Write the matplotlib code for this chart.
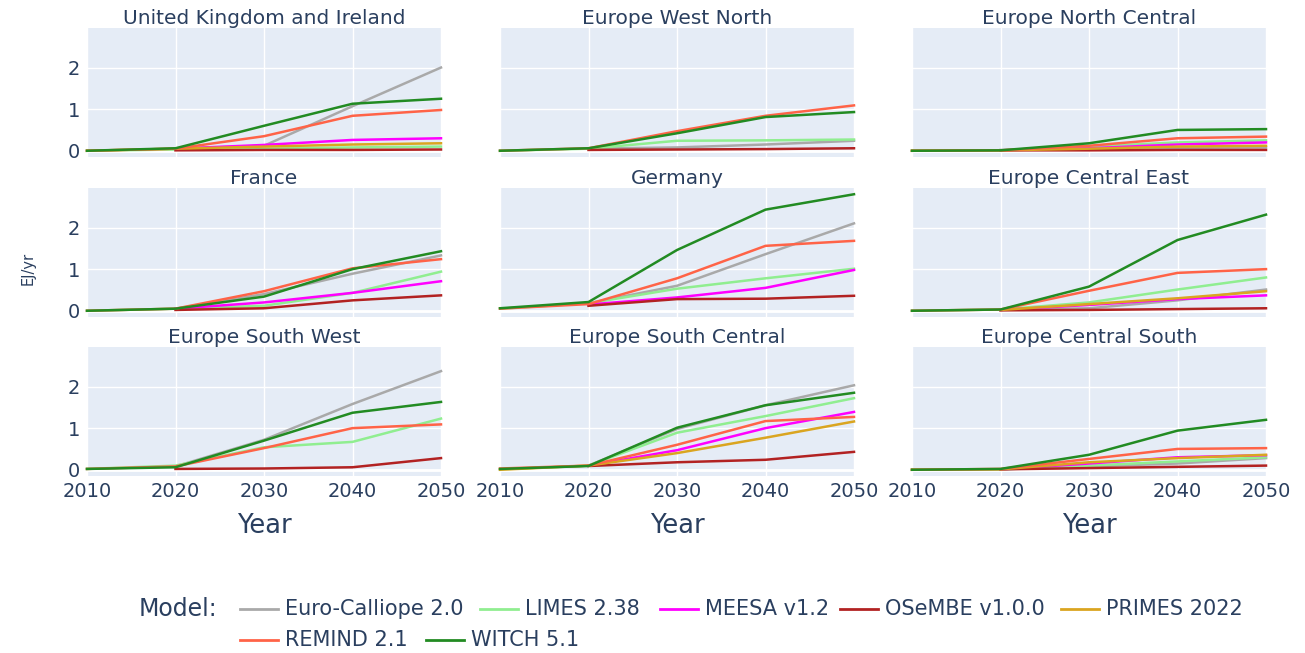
import numpy as np
import matplotlib
matplotlib.use("Agg")
import matplotlib.pyplot as plt
from matplotlib.lines import Line2D

nan = np.nan
years = [2010, 2020, 2030, 2040, 2050]

models = ["Euro-Calliope 2.0", "LIMES 2.38", "MEESA v1.2", "OSeMBE v1.0.0",
          "PRIMES 2022", "REMIND 2.1", "WITCH 5.1"]
colors = ["#a9a9a9", "#90ee90", "#ff00ff", "#b22222", "#daa520", "#ff6347", "#228b22"]

# values per region, in the order of models
uk_ireland = [
    [nan, 0.05, 0.12, 1.07, 2.0],
    [0.0, 0.03, 0.05, 0.08, 0.10],
    [nan, 0.05, 0.14, 0.26, 0.30],
    [nan, 0.01, 0.02, 0.02, 0.03],
    [0.0, 0.05, 0.10, 0.15, 0.18],
    [0.0, 0.05, 0.35, 0.84, 0.98],
    [0.0, 0.06, 0.60, 1.13, 1.25],
]
europe_west_north = [
    [nan, 0.05, 0.08, 0.15, 0.24],
    [0.0, 0.05, 0.24, 0.25, 0.27],
    [nan, nan, nan, nan, nan],
    [nan, 0.02, 0.03, 0.04, 0.06],
    [nan, nan, nan, nan, nan],
    [0.0, 0.06, 0.47, 0.84, 1.09],
    [0.0, 0.06, 0.42, 0.81, 0.93],
]
europe_north_central = [
    [nan, 0.02, 0.05, 0.07, 0.08],
    [0.0, 0.01, 0.10, 0.20, 0.25],
    [nan, 0.01, 0.06, 0.15, 0.20],
    [nan, 0.01, 0.01, 0.02, 0.02],
    [0.0, 0.01, 0.05, 0.10, 0.12],
    [0.0, 0.01, 0.12, 0.30, 0.34],
    [0.0, 0.01, 0.18, 0.50, 0.52],
]
france = [
    [nan, 0.05, 0.40, 0.89, 1.33],
    [0.0, 0.05, 0.12, 0.43, 0.94],
    [nan, 0.05, 0.20, 0.43, 0.71],
    [nan, 0.02, 0.06, 0.25, 0.37],
    [nan, nan, nan, nan, nan],
    [0.0, 0.05, 0.47, 1.02, 1.24],
    [0.0, 0.05, 0.34, 1.00, 1.43],
]
germany = [
    [nan, 0.18, 0.60, 1.36, 2.10],
    [0.05, 0.18, 0.53, 0.78, 1.01],
    [nan, 0.15, 0.32, 0.55, 0.98],
    [nan, 0.12, 0.28, 0.29, 0.36],
    [nan, nan, nan, nan, nan],
    [0.05, 0.16, 0.78, 1.56, 1.68],
    [0.06, 0.21, 1.46, 2.43, 2.80],
]
europe_central_east = [
    [nan, 0.02, 0.06, 0.25, 0.51],
    [0.0, 0.03, 0.20, 0.51, 0.80],
    [nan, 0.02, 0.14, 0.28, 0.37],
    [nan, 0.01, 0.02, 0.04, 0.06],
    [nan, 0.02, 0.16, 0.30, 0.47],
    [0.0, 0.03, 0.48, 0.91, 1.00],
    [0.0, 0.03, 0.58, 1.70, 2.31],
]
europe_south_west = [
    [nan, 0.08, 0.72, 1.58, 2.37],
    [0.02, 0.10, 0.54, 0.67, 1.23],
    [nan, nan, nan, nan, nan],
    [nan, 0.02, 0.03, 0.06, 0.28],
    [nan, nan, nan, nan, nan],
    [0.02, 0.08, 0.52, 1.00, 1.09],
    [0.02, 0.06, 0.70, 1.37, 1.63],
]
europe_south_central = [
    [nan, 0.10, 0.98, 1.55, 2.03],
    [0.01, 0.10, 0.89, 1.29, 1.72],
    [nan, 0.10, 0.47, 1.00, 1.39],
    [nan, 0.09, 0.18, 0.24, 0.43],
    [0.0, 0.10, 0.40, 0.77, 1.16],
    [0.03, 0.10, 0.60, 1.17, 1.27],
    [0.02, 0.09, 1.01, 1.55, 1.85],
]
europe_central_south = [
    [nan, 0.01, 0.08, 0.15, 0.28],
    [0.0, 0.01, 0.10, 0.20, 0.30],
    [nan, 0.01, 0.15, 0.30, 0.35],
    [nan, 0.01, 0.04, 0.07, 0.10],
    [0.0, 0.01, 0.18, 0.28, 0.36],
    [0.0, 0.02, 0.26, 0.50, 0.52],
    [0.0, 0.02, 0.36, 0.94, 1.20],
]

regions = ["United Kingdom and Ireland", "Europe West North", "Europe North Central",
           "France", "Germany", "Europe Central East",
           "Europe South West", "Europe South Central", "Europe Central South"]
region_values = [uk_ireland, europe_west_north, europe_north_central,
                 france, germany, europe_central_east,
                 europe_south_west, europe_south_central, europe_central_south]

W, H = 1305, 653
BG = "#E5ECF6"
TXT = "#2a3f5f"
plt.rcParams["font.family"] = ["DejaVu Sans"]

fig = plt.figure(figsize=(W / 100, H / 100), dpi=100)

col_left = [87, 500, 912]
row_top = [28, 188, 347]
pw, ph = 354, 129

for i, (name, vals) in enumerate(zip(regions, region_values)):
    r, c = divmod(i, 3)
    ax = fig.add_axes([col_left[c] / W, 1 - (row_top[r] + ph) / H, pw / W, ph / H])
    ax.set_facecolor(BG)
    for s in ax.spines.values():
        s.set_visible(False)
    ax.set_xlim(2010, 2050)
    ax.set_ylim(-0.15, 2.95)
    ax.set_xticks(years)
    ax.set_yticks([0, 1, 2])
    ax.grid(True, color="white", linewidth=1.0)
    ax.axhline(0, color="white", linewidth=2.0, zorder=1)
    ax.set_axisbelow(True)
    ax.tick_params(length=0, labelcolor=TXT)
    for m, col, v in zip(models, colors, vals):
        ax.plot(years, v, color=col, linewidth=1.8, zorder=3, clip_on=False)
    ax.set_title(name, fontsize=14.5, color=TXT, pad=3)
    if c == 0:
        ax.tick_params(axis="y", labelsize=14, pad=5)
    else:
        ax.set_yticklabels([])
    if r == 2:
        ax.tick_params(axis="x", labelsize=14, pad=4)
        ax.set_xlabel("Year", fontsize=18.5, color=TXT, labelpad=9)
    else:
        ax.set_xticklabels([])

fig.text(28 / W, 1 - 268 / H, "EJ/yr", rotation=90, fontsize=10.5, color=TXT,
         ha="center", va="center")

# legend
fig.text(139 / W, 1 - 609 / H, "Model:", fontsize=17, color=TXT, ha="left", va="center")
leg_pos = [(240, 609), (480, 609), (660, 609), (840, 609), (1061, 609),
           (240, 640), (426, 640)]
for m, col, (lx, ly) in zip(models, colors, leg_pos):
    fig.add_artist(Line2D([lx / W, (lx + 38) / W], [1 - ly / H, 1 - ly / H],
                          color=col, linewidth=2, transform=fig.transFigure))
    fig.text((lx + 45) / W, 1 - ly / H, m, fontsize=15, color=TXT, ha="left", va="center")

fig.savefig("out.png", dpi=100, facecolor="white")
